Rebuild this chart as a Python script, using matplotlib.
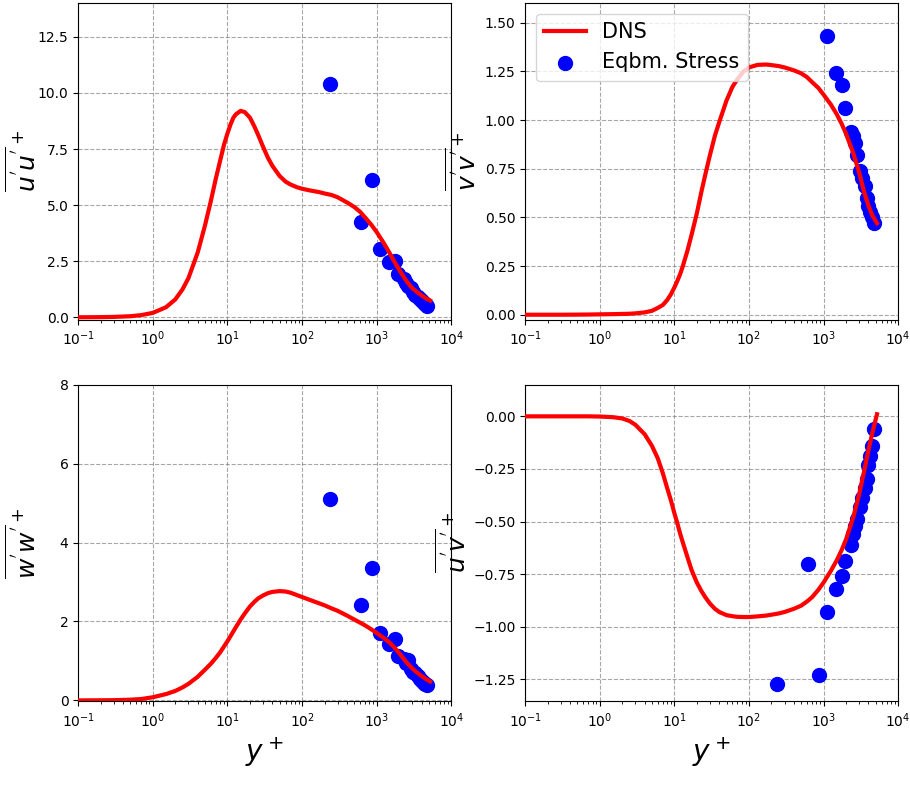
import matplotlib
matplotlib.use("Agg")
import matplotlib.pyplot as plt
import numpy as np

# DNS profiles
yp_dns = [0.1, 0.2, 0.3, 0.5, 0.7, 1, 1.5, 2, 2.5, 3, 4, 5, 6, 7, 8, 9, 10, 11, 12, 13,
          15, 17, 20, 23, 26, 30, 35, 40, 50, 60, 70, 85, 100, 130, 170, 200, 250, 300,
          400, 500, 600, 700, 850, 1000, 1250, 1500, 1750, 2000, 2500, 3000, 3500, 4000,
          4500, 5200]
uu_dns = [0.003, 0.01, 0.02, 0.05, 0.1, 0.2, 0.45, 0.8, 1.25, 1.75, 2.9, 4.1, 5.2, 6.2,
          7.0, 7.7, 8.2, 8.6, 8.9, 9.05, 9.2, 9.15, 8.9, 8.5, 8.1, 7.6, 7.1, 6.75, 6.3,
          6.05, 5.92, 5.8, 5.73, 5.65, 5.58, 5.52, 5.45, 5.35, 5.12, 4.92, 4.7, 4.45,
          4.12, 3.8, 3.3, 2.85, 2.45, 2.12, 1.62, 1.3, 1.12, 0.98, 0.86, 0.75]
vv_dns = [0.0, 0.0, 0.0, 0.0005, 0.001, 0.002, 0.003, 0.004, 0.005, 0.007, 0.012, 0.02,
          0.035, 0.05, 0.075, 0.105, 0.14, 0.175, 0.21, 0.25, 0.33, 0.41, 0.52, 0.63,
          0.72, 0.82, 0.92, 0.99, 1.1, 1.17, 1.21, 1.25, 1.27, 1.283, 1.285, 1.282,
          1.277, 1.27, 1.255, 1.24, 1.22, 1.195, 1.165, 1.13, 1.08, 1.03, 0.98, 0.93,
          0.83, 0.73, 0.63, 0.56, 0.51, 0.47]
ww_dns = [0.0, 0.003, 0.006, 0.018, 0.035, 0.08, 0.16, 0.24, 0.33, 0.42, 0.6, 0.78, 0.93,
          1.08, 1.22, 1.37, 1.5, 1.63, 1.75, 1.86, 2.05, 2.2, 2.38, 2.5, 2.59, 2.66, 2.72,
          2.75, 2.77, 2.76, 2.73, 2.67, 2.62, 2.54, 2.46, 2.41, 2.33, 2.27, 2.15, 2.05,
          1.97, 1.9, 1.8, 1.71, 1.58, 1.46, 1.33, 1.2, 0.97, 0.81, 0.7, 0.62, 0.55, 0.48]
uv_dns = [0.0, 0.0, 0.0, 0.0, 0.0, -0.001, -0.004, -0.01, -0.022, -0.04, -0.085, -0.14,
          -0.2, -0.27, -0.34, -0.4, -0.46, -0.51, -0.56, -0.6, -0.67, -0.73, -0.79, -0.83,
          -0.86, -0.89, -0.915, -0.93, -0.945, -0.95, -0.953, -0.954, -0.954, -0.951,
          -0.947, -0.943, -0.937, -0.93, -0.915, -0.9, -0.88, -0.86, -0.825, -0.79,
          -0.735, -0.685, -0.635, -0.585, -0.48, -0.37, -0.26, -0.16, -0.08, 0.01]

# equilibrium stress model points
yp_eq = [240, 620, 860, 1100, 1480, 1750, 1950, 2300, 2450, 2650, 2850, 3050, 3300,
         3550, 3800, 4000, 4250, 4500, 4750]
uu_eq = [10.4, 4.25, 6.1, 3.05, 2.45, 2.5, 1.95, 1.7, 1.55, 1.4, 1.3, 1.15, 1.0, 0.9,
         0.8, 0.72, 0.65, 0.58, 0.52]
vv_eq = [np.nan, np.nan, np.nan, 1.43, 1.24, 1.18, 1.06, 0.94, 0.92, 0.88, 0.82, 0.74,
         0.70, 0.66, 0.60, 0.56, 0.53, 0.50, 0.47]
ww_eq = [5.1, 2.42, 3.35, 1.72, 1.42, 1.55, 1.12, 1.05, 0.95, 1.02, 0.80, 0.72, 0.70,
         0.62, 0.55, 0.50, 0.45, 0.42, 0.38]
uv_eq = [-1.27, -0.70, -1.23, -0.93, -0.82, -0.76, -0.69, -0.61, -0.56, -0.52, -0.49,
         -0.43, -0.39, -0.34, -0.30, -0.23, -0.19, -0.14, -0.06]

labels = [r"$\overline{u^{'}u^{'}}^+$", r"$\overline{v^{'}v^{'}}^+$",
          r"$\overline{w^{'}w^{'}}^+$", r"$\overline{u^{'}v^{'}}^+$"]
dns = [uu_dns, vv_dns, ww_dns, uv_dns]
eq = [uu_eq, vv_eq, ww_eq, uv_eq]
ylims = [(-0.1, 14), (-0.025, 1.6), (-0.02, 8), (-1.354, 0.15)]
yticks = [[0, 2.5, 5, 7.5, 10, 12.5],
          [0, 0.25, 0.5, 0.75, 1.0, 1.25, 1.5],
          [0, 2, 4, 6, 8],
          [0, -0.25, -0.5, -0.75, -1.0, -1.25]]
yfmt = ["{:.1f}", "{:.2f}", "{:.0f}", "{:.2f}"]
label_x = [-0.1, -0.12, -0.1, -0.145]

fig, axs = plt.subplots(2, 2, figsize=(9.1, 7.95), dpi=100)
fig.subplots_adjust(left=0.086, right=0.987, top=0.996, bottom=0.118,
                    wspace=0.198, hspace=0.206)

for i, ax in enumerate(axs.flat):
    sc = ax.scatter(yp_eq, eq[i], s=100, color='blue', label='Eqbm. Stress', zorder=2)
    ln, = ax.plot(yp_dns, dns[i], color='red', lw=3, label='DNS', zorder=3)
    ax.set_xscale('log')
    ax.set_xlim(1e-1, 1e4)
    ax.set_ylim(*ylims[i])
    ax.set_yticks(yticks[i])
    ax.set_yticklabels([yfmt[i].format(v).replace('-', '\u2212') for v in yticks[i]])
    ax.grid(True, linestyle='--', color='gray', alpha=0.7)
    ax.set_ylabel(labels[i], fontsize=18)
    ax.yaxis.set_label_coords(label_x[i], 0.5)
    if i >= 2:
        ax.set_xlabel(r"$y^+$", fontsize=20)
    if i == 1:
        ax.legend([ln, sc], ['DNS', 'Eqbm. Stress'], loc='upper left', fontsize=15)

plt.savefig("out.png")
